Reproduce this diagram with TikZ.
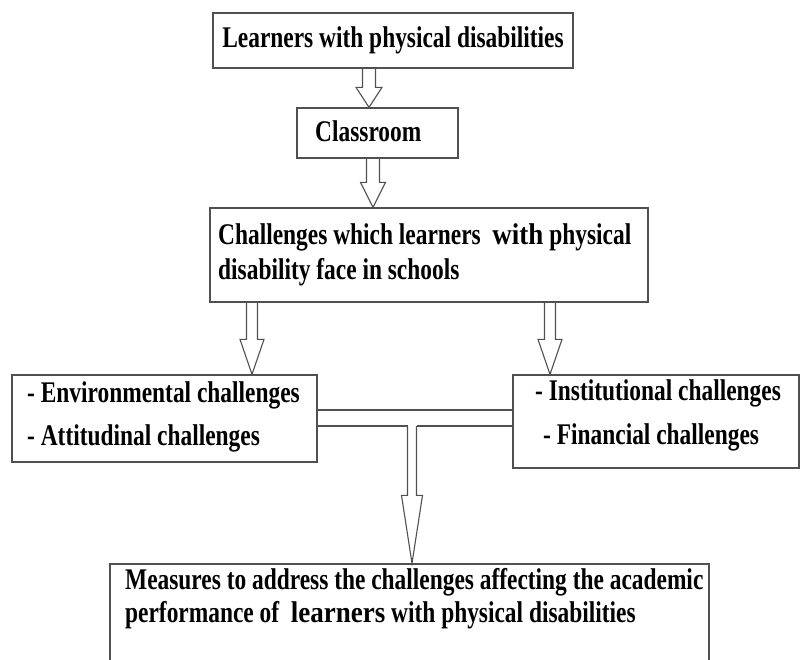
\documentclass[tikz,border=0pt]{standalone}
\usepackage{fontspec}
\setmainfont[FakeStretch=0.78]{Liberation Serif}
\newfontfamily\widefont[FakeStretch=0.9]{Liberation Serif}
\usetikzlibrary{calc,backgrounds}
\definecolor{ln}{HTML}{505050}
\tikzset{
  box/.style={draw=ln, line width=1.3pt, inner sep=0pt},
  txt/.style={inner sep=0pt, font=\fontsize{30}{35}\selectfont\bfseries, text=black, align=left},
  blk/.style={draw=ln, line width=1.1pt, fill=white, line join=miter},
  bar/.style={draw=ln, line width=1.1pt},
}
\newcommand\blockarrow[5]{% from, to, shaft half, head half, head length
  \draw[blk] let \p1=(#1), \p2=(#2) in
    (\x2-#3pt,\y1) -- (\x2-#3pt,\y2+#5pt) -- (\x2-#4pt,\y2+#5pt) -- (\x2,\y2)
    -- (\x2+#4pt,\y2+#5pt) -- (\x2+#3pt,\y2+#5pt) -- (\x2+#3pt,\y1);}
\begin{document}
\begin{tikzpicture}[x=1pt,y=-1pt]
\useasboundingbox (0,0) rectangle (800,659);
% boxes
\node[box, txt, align=center, minimum width=360pt, minimum height=55pt] (top) at (393,40.5) {Learners with physical disabilities};
\node[box, minimum width=161pt, minimum height=50pt] (cls) at (377.5,133) {};
\node[txt, anchor=west] (clst) at (315,131) {Classroom};
\node[box, minimum width=438pt, minimum height=94pt] (chal) at (429,255) {};
\node[txt, anchor=west] (chalt) at (218,254.5) {Challenges which learners\ \ {\widefont with} physical\\disability face in schools};
\node[box, minimum width=305pt, minimum height=87pt] (L) at (164.5,418.5) {};
\node[txt, anchor=west, font=\fontsize{30}{43}\selectfont\bfseries] (Lt) at (27,416.5) {- Environmental challenges\\- Attitudinal challenges};
\node[box, minimum width=286pt, minimum height=93pt] (R) at (656,421.5) {};
\node[txt, anchor=west, font=\fontsize{30}{44}\selectfont\bfseries] (Rt) at (535,415) {- Institutional challenges\\\hspace*{8pt}- Financial challenges};
\node[box, minimum width=599pt, minimum height=116pt] (B) at (409.5,622) {};
\node[txt, anchor=west, font=\fontsize{30}{33}\selectfont\bfseries] (Bt) at (125,598.5) {Measures to address the challenges affecting the academic\\performance of\ \ {\widefont learners} with physical disabilities};
% junction coordinates
\coordinate (a1s) at (top.south -| 369,0);
\coordinate (a1e) at (cls.north -| 369,0);
\coordinate (a2s) at (cls.south -| 373,0);
\coordinate (a2e) at (chal.north -| 373,0);
\coordinate (a3s) at (chal.south -| 252,0);
\coordinate (a3e) at (L.north -| 252,0);
\coordinate (a4s) at (chal.south -| 550,0);
\coordinate (a4e) at (R.north -| 550,0);
\coordinate (J) at (412,426);
\coordinate (a5e) at (B.north -| J);
\begin{scope}[on background layer]
  \fill[white] (0,0) rectangle (800,659);
  \blockarrow{a1s}{a1e}{6.5}{13}{20}
  \blockarrow{a2s}{a2e}{6.5}{12.5}{25}
  \blockarrow{a3s}{a3e}{5.5}{12}{35}
  \blockarrow{a4s}{a4e}{5.5}{12}{35}
  \blockarrow{J}{a5e}{4.5}{10.5}{68}
\end{scope}
% connector between the two challenge boxes
\draw[bar] (L.east |- 0,410) -- (R.west |- 0,410);
\draw[bar] (L.east |- J) -- ($(J)+(-4.5,0)$);
\draw[bar] ($(J)+(4.5,0)$) -- (R.west |- J);
\end{tikzpicture}
\end{document}
